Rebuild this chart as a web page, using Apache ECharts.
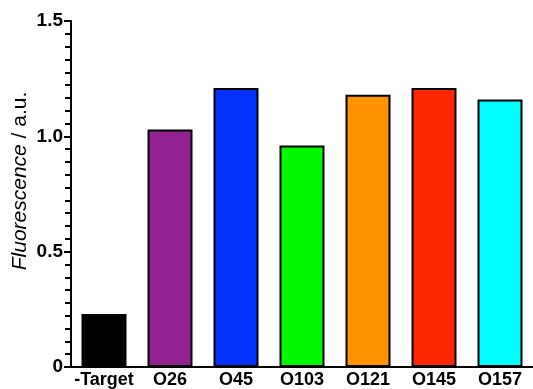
<!DOCTYPE html>
<html>
<head>
<meta charset="utf-8">
<script src="https://cdn.jsdelivr.net/npm/echarts@6/dist/echarts.min.js"></script>
<style>
  html, body { margin: 0; padding: 0; background: #fff; }
  #chart { width: 533px; height: 389px; }
</style>
</head>
<body>
<div id="chart"></div>
<script>
// Samples and their measured fluorescence
const samples = ['-Target', 'O26', 'O45', 'O103', 'O121', 'O145', 'O157'];
const fluorescence = [0.23, 1.03, 1.21, 0.96, 1.18, 1.21, 1.16];
const barColors = ['#000000', '#942192', '#0433FF', '#00F900', '#FF9300', '#FF2600', '#00FDFF'];
const yTicks = [0, 0.5, 1.0, 1.5];

const FONT = '"Liberation Sans", Arial, sans-serif';

const chart = echarts.init(document.getElementById('chart'), null, { renderer: 'canvas' });

chart.setOption({
  animation: false,
  backgroundColor: '#ffffff',
  grid: { left: 71, right: -6, top: 21, bottom: 21.5, containLabel: false },
  xAxis: {
    type: 'category',
    data: samples,
    boundaryGap: true,
    axisLine: { lineStyle: { color: '#000', width: 2 } },
    axisTick: { show: false },
    axisLabel: {
      color: '#000', fontFamily: FONT, fontWeight: 'bold', fontSize: 18,
      margin: 4, interval: 0
    },
    splitLine: { show: false }
  },
  yAxis: {
    type: 'value',
    min: yTicks[0],
    max: yTicks[yTicks.length - 1],
    interval: 0.5,
    axisLine: { show: true, lineStyle: { color: '#000', width: 2 } },
    axisTick: { show: true, length: 7, lineStyle: { color: '#000', width: 2 } },
    minorTick: { show: true, splitNumber: 9, length: 6, lineStyle: { color: '#000', width: 2 } },
    axisLabel: {
      color: '#000', fontFamily: FONT, fontWeight: 'bold', fontSize: 19, margin: 8,
      formatter: v => (v === 0 ? '0' : v.toFixed(1))
    },
    splitLine: { show: false }
  },
  series: [{
    type: 'bar',
    barWidth: 45,
    data: fluorescence.map((v, i) => ({
      value: v,
      itemStyle: { color: barColors[i], borderColor: '#000', borderWidth: 2 }
    }))
  }],
  graphic: [{
    type: 'text',
    x: 20,
    y: 181,
    rotation: Math.PI / 2,
    style: {
      text: '{i|Fluorescence}{n| / a.u.}',
      fill: '#000',
      fontSize: 21,
      fontFamily: FONT,
      align: 'center',
      verticalAlign: 'middle',
      rich: {
        i: { fontStyle: 'italic', fontSize: 21, fontFamily: FONT, fill: '#000' },
        n: { fontStyle: 'normal', fontSize: 21, fontFamily: FONT, fill: '#000' }
      }
    }
  }]
});
</script>
</body>
</html>
